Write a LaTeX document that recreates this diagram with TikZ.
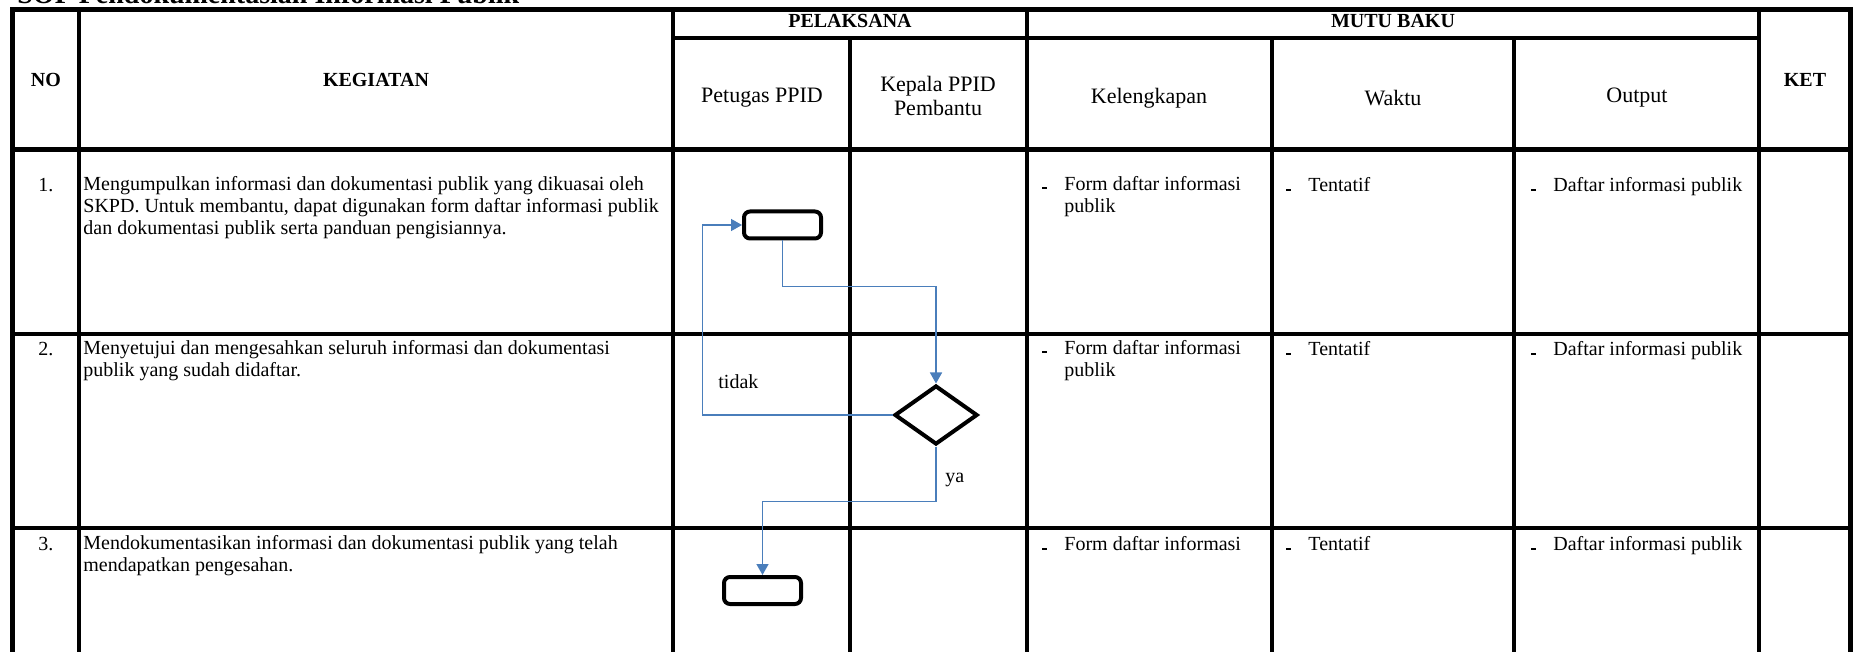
\documentclass[tikz,border=0pt]{standalone}
\usepackage{fontspec}
\setmainfont{Liberation Serif}
\usepackage{tikz}
\usetikzlibrary{
	positioning,
	shapes.geometric,
	arrows.meta
}
\definecolor{FlowBlue}{RGB}{74,126,187}
\newcommand{\itemdash}{\llap{\rule[0.6pt]{2.5pt}{1pt}\hspace{8.5pt}}}
\tikzset{
	grid/.style={line width=2pt},
	head/.style={font=\fontsize{10}{11}\selectfont\bfseries, align=center, inner sep=0pt},
	subhead/.style={font=\fontsize{11}{12}\selectfont, align=center, inner sep=0pt},
	cell/.style={font=\fontsize{10}{11}\selectfont, align=left, inner sep=0pt, anchor=north west, execute at begin node=\strut},
	num/.style={font=\fontsize{10}{11}\selectfont, inner sep=0pt, anchor=north, execute at begin node=\strut},
	stepbox/.style={draw, line width=2pt, rounded corners=3pt, minimum width=38.5pt, minimum height=13.5pt, inner sep=0pt},
	decide/.style={diamond, draw, line width=2pt, minimum width=41.5pt, minimum height=29.5pt, inner sep=0pt},
	flow/.style={FlowBlue, line width=0.75pt, -{Triangle[length=5.5pt,width=6pt]}},
	lbl/.style={font=\fontsize{10}{11}\selectfont, inner sep=0pt, anchor=base west}
}

\begin{document}
\begin{tikzpicture}[x=0.5pt,y=-0.5pt]
				\useasboundingbox (0,0) rectangle (1854,652);
				
				% title, cut off by the top edge
				\node[font=\fontsize{14}{16}\selectfont\bfseries, inner sep=0pt, anchor=base west]
				(T) at (17,4) {SOP Pendokumentasian Informasi Publik};
				
				% table rules
				\draw[grid, line width=2.5pt] (12,652) -- (12,10) -- (1850,10) -- (1850,652);
				\draw[grid, line width=2.5pt] (12,150) -- (1850,150);
				\draw[grid] (12,334) -- (1850,334);
				\draw[grid] (12,528) -- (1850,528);
				\draw[grid, line width=1.75pt] (673,38) -- (1759,38);
				\foreach \x in {79,673,1027,1759}
				\draw[grid] (\x,10) -- (\x,652);
				\foreach \x in {850,1272,1514}
				\draw[grid] (\x,38) -- (\x,652);
				
				% header
				\node[head] (HNo) at (46,80) {NO};
				\node[head] (HKeg) at (376,80) {KEGIATAN};
				\node[head] (HPel) at (850,21) {PELAKSANA};
				\node[head] (HMutu) at (1393,21) {MUTU BAKU};
				\node[head] (HKet) at (1805,80) {KET};
				\node[subhead] (HPet) at (762,98) {Petugas PPID};
				\node[subhead] (HKep) at (938,96) {Kepala PPID\\Pembantu};
				\node[subhead] (HKel) at (1149,98) {Kelengkapan};
				\node[subhead] (HWak) at (1393,98) {Waktu};
				\node[subhead] (HOut) at (1637,98) {Output};
				
				% row 1
				\node[num] (N1) at (46,176) {1.};
				\node[cell] (K1) at (83,176)
				{Mengumpulkan informasi dan dokumentasi publik yang dikuasai oleh\\
					SKPD. Untuk membantu, dapat digunakan form daftar informasi publik\\
					dan dokumentasi publik serta panduan pengisiannya.};
				\node[cell] (L1) at (1064,176) {\itemdash Form daftar informasi\\publik};
				\node[cell] (W1) at (1308,176) {\itemdash Tentatif};
				\node[cell] (O1) at (1553,176) {\itemdash Daftar informasi publik};
				
				% row 2
				\node[num] (N2) at (46,340) {2.};
				\node[cell] (K2) at (83,340)
				{Menyetujui dan mengesahkan seluruh informasi dan dokumentasi\\
					publik yang sudah didaftar.};
				\node[cell] (L2) at (1064,340) {\itemdash Form daftar informasi\\publik};
				\node[cell] (W2) at (1308,340) {\itemdash Tentatif};
				\node[cell] (O2) at (1553,340) {\itemdash Daftar informasi publik};
				
				% row 3
				\node[num] (N3) at (46,535) {3.};
				\node[cell] (K3) at (83,535)
				{Mendokumentasikan informasi dan dokumentasi publik yang telah\\
					mendapatkan pengesahan.};
				\node[cell] (L3) at (1064,535) {\itemdash Form daftar informasi};
				\node[cell] (W3) at (1308,535) {\itemdash Tentatif};
				\node[cell] (O3) at (1553,535) {\itemdash Daftar informasi publik};
				
				% flow
				\node[stepbox] (S1) at (782.5,225) {};
				\node[decide] (D) at (936,415) {};
				\node[stepbox] (S3) at (762.5,590.5) {};
				
				\draw[flow] (S1.south) -- ++(0,46) -| (D.north);
				\draw[flow] (D.west) -- ++(-190,0) |- (S1.west);
				\draw[flow] (D.south) -- ++(0,55) -| (S3.north);
				
				\node[lbl] (Tidak) at (718,389) {tidak};
				\node[lbl] (Ya) at (945,482) {ya};
				
\end{tikzpicture}
\end{document}
